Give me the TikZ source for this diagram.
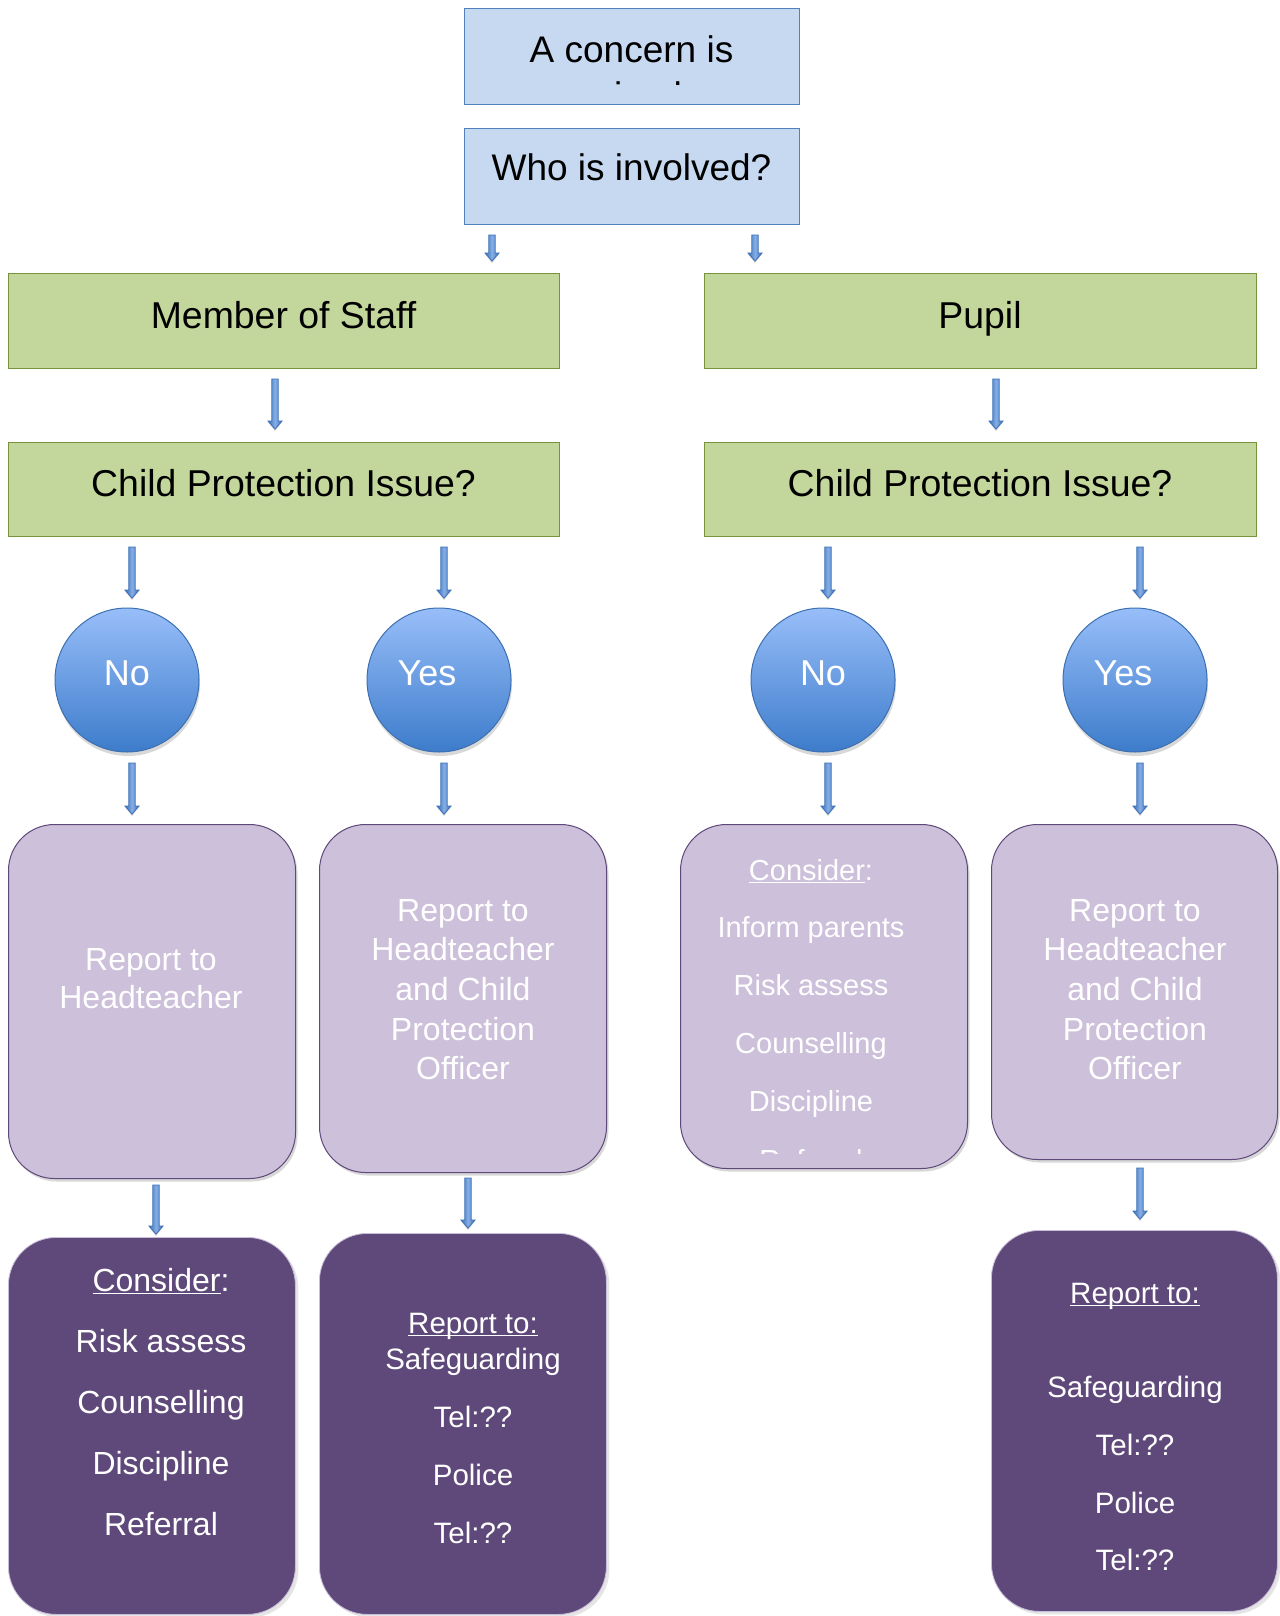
\documentclass[tikz,border=0pt]{standalone}
\usepackage{fontspec}
\setmainfont{Liberation Sans}
\usetikzlibrary{shadows}
\definecolor{bfill}{HTML}{C6D9F1}
\definecolor{bline}{HTML}{4F81BD}
\definecolor{gfill}{HTML}{C3D69B}
\definecolor{gline}{HTML}{77933C}
\definecolor{lpfill}{HTML}{CCC0DA}
\definecolor{lpline}{HTML}{5F497A}
\definecolor{dpfill}{HTML}{5F497A}
\definecolor{dpline}{HTML}{C9BEDA}
\definecolor{ctop}{HTML}{98BEF9}
\definecolor{cbot}{HTML}{3D7CCB}
\definecolor{cline}{HTML}{3C70B0}
\definecolor{arrlight}{HTML}{86ADE4}
\definecolor{arrdark}{HTML}{3A72BA}
\newcommand\myul[1]{\setbox0=\hbox{#1}\rlap{\rule[-3pt]{\wd0}{1.3pt}}\box0}
\newcommand\barrow[3]{%
  \fill[black!20] (#1-7,#3-7) -- (#1,#3+2) -- (#1+7,#3-7) -- cycle;
  \path[draw=arrdark, line width=0.8pt, left color=arrdark, right color=arrdark, middle color=arrlight]
    (#1-3.2,#2) -- (#1+3.2,#2) -- (#1+3.2,#3-8) -- (#1+7,#3-8) -- (#1,#3) -- (#1-7,#3-8) -- (#1-3.2,#3-8) -- cycle;}
\tikzset{
  bluebox/.style={draw=bline, fill=bfill, line width=1.2pt, anchor=north west, inner sep=0pt},
  greenbox/.style={draw=gline, fill=gfill, line width=1.2pt, anchor=north west, inner sep=0pt},
  lpbox/.style={draw=lpline, fill=lpfill, line width=1pt, rounded corners=46pt, anchor=north west, inner sep=0pt,
    drop shadow={shadow xshift=2pt, shadow yshift=-3pt, opacity=0.3}},
  dpbox/.style={draw=dpline, fill=dpfill, line width=0.8pt, rounded corners=48pt, anchor=north west, inner sep=0pt,
    drop shadow={shadow xshift=3pt, shadow yshift=-3pt, opacity=0.2}},
  yn/.style={circle, minimum size=144pt, inner sep=0pt, top color=ctop, bottom color=cbot, draw=cline, line width=1pt,
    drop shadow={shadow xshift=1pt, shadow yshift=-4pt, opacity=0.3}},
  btext/.style={font=\fontsize{37pt}{40pt}\selectfont, text=black, inner sep=0pt, anchor=base},
  gtext/.style={font=\fontsize{37.4pt}{40pt}\selectfont, text=black, inner sep=0pt, anchor=base},
  ctext/.style={font=\fontsize{36pt}{40pt}\selectfont, text=white, inner sep=0pt, anchor=base},
  lptext/.style={font=\fontsize{32pt}{36pt}\selectfont, text=white, inner sep=0pt, anchor=base},
  lpstext/.style={font=\fontsize{29pt}{34pt}\selectfont, text=white, inner sep=0pt, anchor=base},
  dptext/.style={font=\fontsize{32pt}{36pt}\selectfont, text=white, inner sep=0pt, anchor=base},
  dpstext/.style={font=\fontsize{29.5pt}{36pt}\selectfont, text=white, inner sep=0pt, anchor=base},
}
\begin{document}
\begin{tikzpicture}[x=1pt,y=-1pt]
\useasboundingbox (0,0) rectangle (1279,1616);
\fill[white] (0,0) rectangle (1279,1616);

% top blue boxes
\node[bluebox, minimum width=335pt, minimum height=96pt] (concern) at (464,8) {};
\begin{scope}
  \clip (464,8) rectangle (799,85);
  \node[btext] (tconcern) at (631.5,63) {A concern is};
  \node[btext] (traised) at (631.5,109) {raised};
\end{scope}
\node[bluebox, minimum width=335pt, minimum height=96pt] (who) at (464,128) {};
\node[btext] (twho) at (631.5,181) {Who is involved?};

% green boxes
\node[greenbox, minimum width=551pt, minimum height=95pt] (staff) at (8,273) {};
\node[gtext] (tstaff) at (283.5,328) {Member of Staff};
\node[greenbox, minimum width=552pt, minimum height=95pt] (pupil) at (704,273) {};
\node[gtext] (tpupil) at (980,328) {Pupil};
\node[greenbox, minimum width=551pt, minimum height=94pt] (cpl) at (8,442) {};
\node[gtext] (tcpl) at (283.5,496) {Child Protection Issue?};
\node[greenbox, minimum width=552pt, minimum height=94pt] (cpr) at (704,442) {};
\node[gtext] (tcpr) at (980,496) {Child Protection Issue?};

% circles
\node[yn] (c1) at (127,680) {};
\node[ctext] (tc1) at (127,685) {No};
\node[yn] (c2) at (439,680) {};
\node[ctext] (tc2) at (427,685) {Yes};
\node[yn] (c3) at (823,680) {};
\node[ctext] (tc3) at (823,685) {No};
\node[yn] (c4) at (1135,680) {};
\node[ctext] (tc4) at (1123,685) {Yes};

% light purple boxes
\node[lpbox, minimum width=287pt, minimum height=354pt] (lpa) at (8,824) {};
\node[lptext] (lpa1) at (151,970) {Report to};
\node[lptext] (lpa2) at (151,1008.5) {Headteacher};

\node[lpbox, minimum width=287pt, minimum height=348pt] (lpb) at (319,824) {};
\node[lptext] (lpb1) at (463,921) {Report to};
\node[lptext] (lpb2) at (463,960.5) {Headteacher};
\node[lptext] (lpb3) at (463,1000) {and Child};
\node[lptext] (lpb4) at (463,1040) {Protection};
\node[lptext] (lpb5) at (463,1079.5) {Officer};

\node[lpbox, minimum width=287pt, minimum height=344pt] (lpc) at (680,824) {};
\begin{scope}
  \clip (680,824) rectangle (967,1153);
  \node[lpstext] (lpc1) at (811,880) {\myul{Consider}:};
  \node[lpstext] (lpc2) at (811,937.5) {Inform parents};
  \node[lpstext] (lpc3) at (811,995) {Risk assess};
  \node[lpstext] (lpc4) at (811,1053) {Counselling};
  \node[lpstext] (lpc5) at (811,1111) {Discipline};
  \node[lpstext] (lpc6) at (811,1170) {Referral};
\end{scope}

\node[lpbox, minimum width=286pt, minimum height=335pt] (lpd) at (991,824) {};
\node[lptext] (lpd1) at (1135,921) {Report to};
\node[lptext] (lpd2) at (1135,960.5) {Headteacher};
\node[lptext] (lpd3) at (1135,1000) {and Child};
\node[lptext] (lpd4) at (1135,1040) {Protection};
\node[lptext] (lpd5) at (1135,1079.5) {Officer};

% dark purple boxes
\node[dpbox, minimum width=287pt, minimum height=377pt] (dpa) at (8,1237) {};
\node[dptext] (dpa1) at (161,1291) {\myul{Consider}:};
\node[dptext] (dpa2) at (161,1352) {Risk assess};
\node[dptext] (dpa3) at (161,1413) {Counselling};
\node[dptext] (dpa4) at (161,1474) {Discipline};
\node[dptext] (dpa5) at (161,1535) {Referral};

\node[dpbox, minimum width=287pt, minimum height=381pt] (dpb) at (319,1233) {};
\node[dpstext] (dpb1) at (473,1333) {\myul{Report to:}};
\node[dpstext] (dpb2) at (473,1369) {Safeguarding};
\node[dpstext] (dpb3) at (473,1427) {Tel:??};
\node[dpstext] (dpb4) at (473,1485) {Police};
\node[dpstext] (dpb5) at (473,1543) {Tel:??};

\node[dpbox, minimum width=286pt, minimum height=381pt] (dpc) at (991,1230) {};
\node[dpstext] (dpc1) at (1135,1303) {\myul{Report to:}};
\node[dpstext] (dpc2) at (1135,1397) {Safeguarding};
\node[dpstext] (dpc3) at (1135,1455) {Tel:??};
\node[dpstext] (dpc4) at (1135,1513) {Police};
\node[dpstext] (dpc5) at (1135,1570) {Tel:??};

% block arrows
\barrow{492}{235}{261}
\barrow{755}{235}{261}
\barrow{275}{379}{429}
\barrow{996}{379}{429}
\barrow{132}{547}{598}
\barrow{444}{547}{598}
\barrow{828}{547}{598}
\barrow{1140}{547}{598}
\barrow{132}{763}{814}
\barrow{444}{763}{814}
\barrow{828}{763}{814}
\barrow{1140}{763}{814}
\barrow{156}{1185}{1234}
\barrow{468}{1178}{1228}
\barrow{1140}{1168}{1219}
\end{tikzpicture}
\end{document}
